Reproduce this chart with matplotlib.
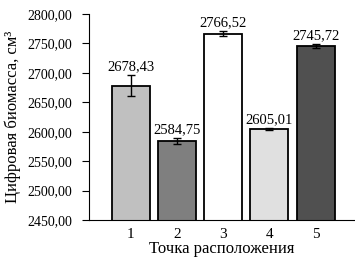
import matplotlib.pyplot as plt
import numpy as np

points = ['1', '2', '3', '4', '5']
biomass = [2678.43, 2584.75, 2766.52, 2605.01, 2745.72]
errors = [18, 5, 4, 2, 4]
colors = ['#c0c0c0', '#7f7f7f', '#ffffff', '#e0e0e0', '#505050']
value_labels = ['2678,43', '2584,75', '2766,52', '2605,01', '2745,72']

plt.rcParams['font.family'] = ['Liberation Serif', 'DejaVu Serif']
plt.rcParams['font.size'] = 10

fig = plt.figure(figsize=(3.55, 2.6), dpi=100)
ax = fig.add_axes([0.251, 0.154, 0.749, 0.792])

x = np.arange(1, len(points) + 1)
ax.bar(x, biomass, width=0.82, color=colors, edgecolor='black', linewidth=1.3,
       yerr=errors, capsize=3, error_kw={'elinewidth': 1, 'capthick': 1})

for xi, v, e, lab in zip(x, biomass, errors, value_labels):
    ax.text(xi, v + e + 3, lab, ha='center', va='bottom', fontsize=10.5)

ax.set_ylim(2450, 2800)
ax.set_xlim(0.1, 5.85)
ax.set_yticks(np.arange(2450, 2801, 50))
ax.set_yticklabels(['{:.2f}'.format(t).replace('.', ',') for t in np.arange(2450, 2801, 50)])
ax.set_xticks(x)
ax.set_xticklabels(points, fontsize=11)
ax.tick_params(axis='x', length=0, pad=6)
ax.tick_params(axis='y', length=5, direction='out', pad=7)

ax.spines['top'].set_visible(False)
ax.spines['right'].set_visible(False)

ax.set_xlabel('Точка расположения', fontsize=12, labelpad=0)
ax.set_ylabel('Цифровая биомасса, см³', fontsize=12, labelpad=5)

fig.savefig('out.png', dpi=100)
